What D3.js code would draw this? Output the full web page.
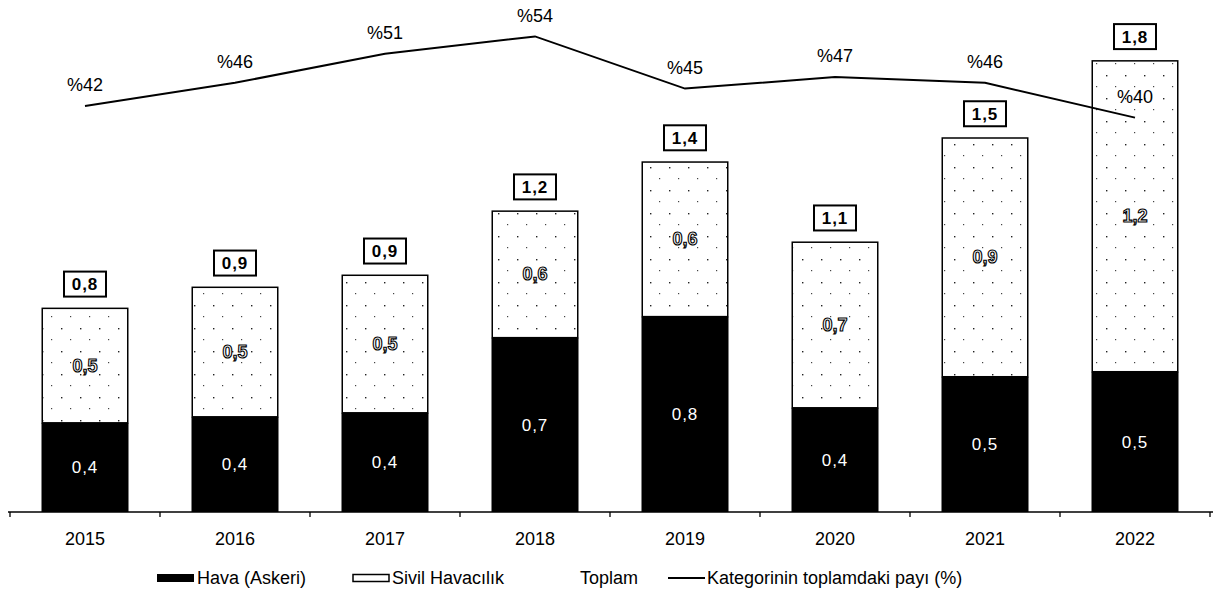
<!DOCTYPE html>
<html>
<head>
<meta charset="utf-8">
<script src="https://cdn.jsdelivr.net/npm/d3@7"></script>
<style>
  body { margin: 0; background: #fff; }
  svg text { font-family: "Liberation Sans", Arial, sans-serif; }
</style>
</head>
<body>
<div id="chart"></div>
<script>
const width = 1213
const height = 594

// data (bar heights) plus the printed labels
const years = ["2015", "2016", "2017", "2018", "2019", "2020", "2021", "2022"]
const hava = [0.356, 0.38, 0.396, 0.696, 0.78, 0.416, 0.54, 0.56]
const sivil = [0.46, 0.52, 0.552, 0.508, 0.62, 0.664, 0.956, 1.244]
const havaLabels = ["0,4", "0,4", "0,4", "0,7", "0,8", "0,4", "0,5", "0,5"]
const sivilLabels = ["0,5", "0,5", "0,5", "0,6", "0,6", "0,7", "0,9", "1,2"]
const toplamLabels = ["0,8", "0,9", "0,9", "1,2", "1,4", "1,1", "1,5", "1,8"]
const pay = [42, 46, 51, 54, 45, 47, 46, 40]
const legendNames = ["Hava (Askeri)", "Sivil Havacılık", "Toplam", "Kategorinin toplamdaki payı (%)"]

const data = years.map((d, i) => ({
    year: d, hava: hava[i], sivil: sivil[i],
    havaLabel: havaLabels[i], sivilLabel: sivilLabels[i], toplamLabel: toplamLabels[i],
    pay: pay[i],
}))

const svg = d3.select("div#chart").append("svg").attr("width", width).attr("height", height)

// speckled fill for the white segments
const defs = svg.append("defs")
const pat = defs.append("pattern").attr("id", "speck")
    .attr("patternUnits", "userSpaceOnUse").attr("width", 19).attr("height", 23)
pat.append("rect").attr("width", 19).attr("height", 23).attr("fill", "#fff")
pat.append("rect").attr("x", 4).attr("y", 6).attr("width", 1.4).attr("height", 1.4).attr("fill", "#222")
pat.append("rect").attr("x", 13).attr("y", 17).attr("width", 1.2).attr("height", 1.2).attr("fill", "#444")

const x = d3.scaleBand().domain(years).range([10, 1210]).paddingInner(0.42).paddingOuter(0.21)
const y = d3.scaleLinear().domain([0, 2]).range([512, 11])
const yPay = d3.scaleLinear().domain([40, 54]).range([117.6, 36.4])

const bars = svg.append("g").attr("class", "bars")

bars.selectAll("rect.hava").data(data).enter().append("rect")
    .attr("class", "hava")
    .attr("x", d => x(d.year))
    .attr("y", d => y(d.hava))
    .attr("width", x.bandwidth())
    .attr("height", d => y(0) - y(d.hava))
    .attr("fill", "#000")

bars.selectAll("rect.sivil").data(data).enter().append("rect")
    .attr("class", "sivil")
    .attr("x", d => x(d.year) + 0.75)
    .attr("y", d => y(d.hava + d.sivil) + 0.75)
    .attr("width", x.bandwidth() - 1.5)
    .attr("height", d => y(d.hava) - y(d.hava + d.sivil) - 0.75)
    .attr("fill", "url(#speck)")
    .attr("stroke", "#000")
    .attr("stroke-width", 1.5)

// value labels
bars.selectAll("text.hava").data(data).enter().append("text")
    .attr("x", d => x(d.year) + x.bandwidth() / 2)
    .attr("y", d => (y(0) + y(d.hava)) / 2)
    .attr("dy", "0.35em")
    .attr("text-anchor", "middle")
    .attr("font-size", 17)
    .attr("letter-spacing", 1)
    .attr("fill", "#fff")
    .text(d => d.havaLabel)

bars.selectAll("text.sivil").data(data).enter().append("text")
    .attr("x", d => x(d.year) + x.bandwidth() / 2)
    .attr("y", d => (y(d.hava) + y(d.hava + d.sivil)) / 2)
    .attr("dy", "0.35em")
    .attr("text-anchor", "middle")
    .attr("font-size", 18)
    .attr("font-weight", "bold")
    .attr("fill", "#fff")
    .attr("stroke", "#000")
    .attr("stroke-width", 1.1)
    .text(d => d.sivilLabel)

// total boxes
const boxW = 42, boxH = 25
const totals = svg.append("g").attr("class", "totals")
const tg = totals.selectAll("g").data(data).enter().append("g")
    .attr("transform", d => `translate(${x(d.year) + x.bandwidth() / 2}, ${y(d.hava + d.sivil) - 11 - boxH})`)
tg.append("rect")
    .attr("x", -boxW / 2).attr("y", 0)
    .attr("width", boxW).attr("height", boxH)
    .attr("fill", "#fff").attr("stroke", "#000").attr("stroke-width", 2)
tg.append("text")
    .attr("y", boxH / 2).attr("dy", "0.36em")
    .attr("text-anchor", "middle")
    .attr("font-size", 17).attr("font-weight", "bold").attr("letter-spacing", 1)
    .text(d => d.toplamLabel)

// x axis: line with ticks at the category boundaries
const axis = svg.append("g").attr("class", "axis")
axis.append("line")
    .attr("x1", 8).attr("x2", width).attr("y1", y(0)).attr("y2", y(0))
    .attr("stroke", "#000").attr("stroke-width", 1.3)
axis.selectAll("line.tick").data(d3.range(years.length + 1)).enter().append("line")
    .attr("class", "tick")
    .attr("x1", i => x.range()[0] + i * x.step())
    .attr("x2", i => x.range()[0] + i * x.step())
    .attr("y1", y(0)).attr("y2", y(0) + 5)
    .attr("stroke", "#000").attr("stroke-width", 1.3)
axis.selectAll("text").data(years).enter().append("text")
    .attr("x", d => x(d) + x.bandwidth() / 2)
    .attr("y", 539)
    .attr("dy", "0.35em")
    .attr("text-anchor", "middle")
    .attr("font-size", 18)
    .text(d => d)

// share line
const line = d3.line().x(d => x(d.year) + x.bandwidth() / 2).y(d => yPay(d.pay))
svg.append("path").datum(data)
    .attr("d", line)
    .attr("fill", "none").attr("stroke", "#000").attr("stroke-width", 2)
svg.append("g").selectAll("text").data(data).enter().append("text")
    .attr("x", d => x(d.year) + x.bandwidth() / 2)
    .attr("y", d => yPay(d.pay) - 21)
    .attr("dy", "0.35em")
    .attr("text-anchor", "middle")
    .attr("font-size", 18)
    .text(d => "%" + d.pay)

// legend
const legend = svg.append("g").attr("class", "legend").attr("transform", "translate(0, 578)")
legend.append("rect").attr("x", 157).attr("y", -4).attr("width", 37).attr("height", 8).attr("fill", "#000")
legend.append("text").attr("x", 197).attr("dy", "0.35em").attr("font-size", 18).text(legendNames[0])
legend.append("rect").attr("x", 353).attr("y", -3.5).attr("width", 36).attr("height", 7)
    .attr("fill", "#fff").attr("stroke", "#000").attr("stroke-width", 1.5)
legend.append("text").attr("x", 392).attr("dy", "0.35em").attr("font-size", 18).text(legendNames[1])
legend.append("text").attr("x", 580).attr("dy", "0.35em").attr("font-size", 18).text(legendNames[2])
legend.append("line").attr("x1", 668).attr("x2", 705).attr("y1", 0).attr("y2", 0)
    .attr("stroke", "#000").attr("stroke-width", 2)
legend.append("text").attr("x", 707).attr("dy", "0.35em").attr("font-size", 18).text(legendNames[3])
</script>
</body>
</html>
